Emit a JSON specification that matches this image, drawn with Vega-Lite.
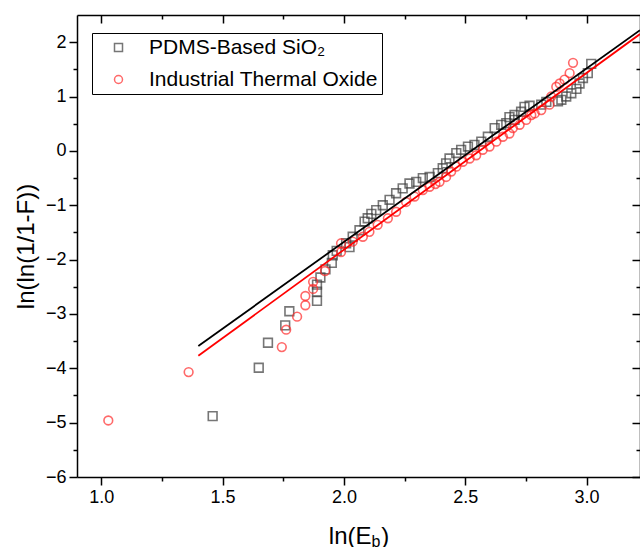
{
  "$schema": "https://vega.github.io/schema/vega-lite/v6.json",
  "autosize": {"type": "none"},
  "width": 563,
  "height": 462,
  "padding": {"left": 77, "top": 15, "right": 0, "bottom": 70},
  "background": "white",
  "config": {
    "view": {"stroke": null},
    "font": "Liberation Sans",
    "axis": {
      "grid": false,
      "domainColor": "black",
      "domainWidth": 1.5,
      "tickColor": "black",
      "tickWidth": 1.5,
      "labelColor": "black",
      "titleColor": "black",
      "labelFont": "Liberation Sans",
      "titleFont": "Liberation Sans",
      "labelFontSize": 18,
      "titleFontSize": 24,
      "titleFontWeight": "normal",
      "labelFlush": false,
      "labelOverlap": false
    },
    "legend": {"labelFont": "Liberation Sans"}
  },
  "datasets": {
    "pts": [
      {"series": "PDMS-Based SiO₂", "x": 1.459, "y": -4.88},
      {"series": "PDMS-Based SiO₂", "x": 1.649, "y": -3.99},
      {"series": "PDMS-Based SiO₂", "x": 1.687, "y": -3.53},
      {"series": "PDMS-Based SiO₂", "x": 1.758, "y": -3.21},
      {"series": "PDMS-Based SiO₂", "x": 1.775, "y": -2.95},
      {"series": "PDMS-Based SiO₂", "x": 1.889, "y": -2.76},
      {"series": "PDMS-Based SiO₂", "x": 1.889, "y": -2.59},
      {"series": "PDMS-Based SiO₂", "x": 1.889, "y": -2.46},
      {"series": "PDMS-Based SiO₂", "x": 1.903, "y": -2.33},
      {"series": "PDMS-Based SiO₂", "x": 1.924, "y": -2.18},
      {"series": "PDMS-Based SiO₂", "x": 1.950, "y": -2.06},
      {"series": "PDMS-Based SiO₂", "x": 1.954, "y": -1.92},
      {"series": "PDMS-Based SiO₂", "x": 1.970, "y": -1.84},
      {"series": "PDMS-Based SiO₂", "x": 2.009, "y": -1.70},
      {"series": "PDMS-Based SiO₂", "x": 2.023, "y": -1.77},
      {"series": "PDMS-Based SiO₂", "x": 2.036, "y": -1.58},
      {"series": "PDMS-Based SiO₂", "x": 2.064, "y": -1.46},
      {"series": "PDMS-Based SiO₂", "x": 2.085, "y": -1.30},
      {"series": "PDMS-Based SiO₂", "x": 2.098, "y": -1.24},
      {"series": "PDMS-Based SiO₂", "x": 2.113, "y": -1.16},
      {"series": "PDMS-Based SiO₂", "x": 2.133, "y": -1.09},
      {"series": "PDMS-Based SiO₂", "x": 2.160, "y": -1.00},
      {"series": "PDMS-Based SiO₂", "x": 2.188, "y": -0.90},
      {"series": "PDMS-Based SiO₂", "x": 2.215, "y": -0.78},
      {"series": "PDMS-Based SiO₂", "x": 2.242, "y": -0.69},
      {"series": "PDMS-Based SiO₂", "x": 2.270, "y": -0.60},
      {"series": "PDMS-Based SiO₂", "x": 2.298, "y": -0.57},
      {"series": "PDMS-Based SiO₂", "x": 2.325, "y": -0.50},
      {"series": "PDMS-Based SiO₂", "x": 2.353, "y": -0.48},
      {"series": "PDMS-Based SiO₂", "x": 2.387, "y": -0.41},
      {"series": "PDMS-Based SiO₂", "x": 2.407, "y": -0.32},
      {"series": "PDMS-Based SiO₂", "x": 2.421, "y": -0.23},
      {"series": "PDMS-Based SiO₂", "x": 2.435, "y": -0.14},
      {"series": "PDMS-Based SiO₂", "x": 2.463, "y": -0.04},
      {"series": "PDMS-Based SiO₂", "x": 2.483, "y": 0.02},
      {"series": "PDMS-Based SiO₂", "x": 2.511, "y": 0.08},
      {"series": "PDMS-Based SiO₂", "x": 2.538, "y": 0.11},
      {"series": "PDMS-Based SiO₂", "x": 2.566, "y": 0.17},
      {"series": "PDMS-Based SiO₂", "x": 2.593, "y": 0.26},
      {"series": "PDMS-Based SiO₂", "x": 2.621, "y": 0.42},
      {"series": "PDMS-Based SiO₂", "x": 2.648, "y": 0.48},
      {"series": "PDMS-Based SiO₂", "x": 2.669, "y": 0.51},
      {"series": "PDMS-Based SiO₂", "x": 2.682, "y": 0.62},
      {"series": "PDMS-Based SiO₂", "x": 2.703, "y": 0.66},
      {"series": "PDMS-Based SiO₂", "x": 2.703, "y": 0.57},
      {"series": "PDMS-Based SiO₂", "x": 2.730, "y": 0.72},
      {"series": "PDMS-Based SiO₂", "x": 2.744, "y": 0.81},
      {"series": "PDMS-Based SiO₂", "x": 2.765, "y": 0.83},
      {"series": "PDMS-Based SiO₂", "x": 2.813, "y": 0.85},
      {"series": "PDMS-Based SiO₂", "x": 2.834, "y": 0.90},
      {"series": "PDMS-Based SiO₂", "x": 2.882, "y": 0.91},
      {"series": "PDMS-Based SiO₂", "x": 2.896, "y": 0.94},
      {"series": "PDMS-Based SiO₂", "x": 2.916, "y": 1.00},
      {"series": "PDMS-Based SiO₂", "x": 2.937, "y": 1.06},
      {"series": "PDMS-Based SiO₂", "x": 2.958, "y": 1.14},
      {"series": "PDMS-Based SiO₂", "x": 2.971, "y": 1.24},
      {"series": "PDMS-Based SiO₂", "x": 2.985, "y": 1.34},
      {"series": "PDMS-Based SiO₂", "x": 3.005, "y": 1.43},
      {"series": "PDMS-Based SiO₂", "x": 3.019, "y": 1.60},
      {"series": "Industrial Thermal Oxide", "x": 1.029, "y": -4.96},
      {"series": "Industrial Thermal Oxide", "x": 1.360, "y": -4.07},
      {"series": "Industrial Thermal Oxide", "x": 1.744, "y": -3.61},
      {"series": "Industrial Thermal Oxide", "x": 1.762, "y": -3.29},
      {"series": "Industrial Thermal Oxide", "x": 1.807, "y": -3.05},
      {"series": "Industrial Thermal Oxide", "x": 1.841, "y": -2.84},
      {"series": "Industrial Thermal Oxide", "x": 1.841, "y": -2.67},
      {"series": "Industrial Thermal Oxide", "x": 1.873, "y": -2.54},
      {"series": "Industrial Thermal Oxide", "x": 1.873, "y": -2.41},
      {"series": "Industrial Thermal Oxide", "x": 1.922, "y": -2.21},
      {"series": "Industrial Thermal Oxide", "x": 1.988, "y": -1.86},
      {"series": "Industrial Thermal Oxide", "x": 1.988, "y": -1.70},
      {"series": "Industrial Thermal Oxide", "x": 2.036, "y": -1.67},
      {"series": "Industrial Thermal Oxide", "x": 2.078, "y": -1.58},
      {"series": "Industrial Thermal Oxide", "x": 2.105, "y": -1.49},
      {"series": "Industrial Thermal Oxide", "x": 2.139, "y": -1.36},
      {"series": "Industrial Thermal Oxide", "x": 2.181, "y": -1.24},
      {"series": "Industrial Thermal Oxide", "x": 2.215, "y": -1.12},
      {"series": "Industrial Thermal Oxide", "x": 2.256, "y": -0.94},
      {"series": "Industrial Thermal Oxide", "x": 2.291, "y": -0.84},
      {"series": "Industrial Thermal Oxide", "x": 2.325, "y": -0.72},
      {"series": "Industrial Thermal Oxide", "x": 2.353, "y": -0.66},
      {"series": "Industrial Thermal Oxide", "x": 2.377, "y": -0.61},
      {"series": "Industrial Thermal Oxide", "x": 2.394, "y": -0.57},
      {"series": "Industrial Thermal Oxide", "x": 2.421, "y": -0.48},
      {"series": "Industrial Thermal Oxide", "x": 2.442, "y": -0.38},
      {"series": "Industrial Thermal Oxide", "x": 2.463, "y": -0.29},
      {"series": "Industrial Thermal Oxide", "x": 2.490, "y": -0.20},
      {"series": "Industrial Thermal Oxide", "x": 2.518, "y": -0.14},
      {"series": "Industrial Thermal Oxide", "x": 2.545, "y": -0.08},
      {"series": "Industrial Thermal Oxide", "x": 2.572, "y": 0.02},
      {"series": "Industrial Thermal Oxide", "x": 2.600, "y": 0.08},
      {"series": "Industrial Thermal Oxide", "x": 2.628, "y": 0.17},
      {"series": "Industrial Thermal Oxide", "x": 2.655, "y": 0.26},
      {"series": "Industrial Thermal Oxide", "x": 2.682, "y": 0.32},
      {"series": "Industrial Thermal Oxide", "x": 2.696, "y": 0.42},
      {"series": "Industrial Thermal Oxide", "x": 2.724, "y": 0.48},
      {"series": "Industrial Thermal Oxide", "x": 2.751, "y": 0.57},
      {"series": "Industrial Thermal Oxide", "x": 2.772, "y": 0.66},
      {"series": "Industrial Thermal Oxide", "x": 2.786, "y": 0.69},
      {"series": "Industrial Thermal Oxide", "x": 2.813, "y": 0.75},
      {"series": "Industrial Thermal Oxide", "x": 2.847, "y": 0.85},
      {"series": "Industrial Thermal Oxide", "x": 2.854, "y": 1.00},
      {"series": "Industrial Thermal Oxide", "x": 2.875, "y": 1.18},
      {"series": "Industrial Thermal Oxide", "x": 2.889, "y": 1.24},
      {"series": "Industrial Thermal Oxide", "x": 2.909, "y": 1.31},
      {"series": "Industrial Thermal Oxide", "x": 2.930, "y": 1.43},
      {"series": "Industrial Thermal Oxide", "x": 2.944, "y": 1.62}
    ],
    "fit": [
      {"series": "PDMS-Based SiO₂", "x": 1.4, "y": -3.59},
      {"series": "PDMS-Based SiO₂", "x": 3.22, "y": 2.22},
      {"series": "Industrial Thermal Oxide", "x": 1.4, "y": -3.77},
      {"series": "Industrial Thermal Oxide", "x": 3.22, "y": 2.15}
    ]
  },
  "layer": [
    {
      "data": {"name": "pts"},
      "mark": {"type": "point", "filled": false, "strokeWidth": 1.6, "size": 76, "clip": true},
      "encoding": {
        "x": {
          "field": "x", "type": "quantitative",
          "scale": {"domain": [0.9, 3.22], "nice": false, "zero": false},
          "axis": {
            "orient": "bottom",
            "values": [1, 1.25, 1.5, 1.75, 2, 2.25, 2.5, 2.75, 3],
            "labelExpr": "(datum.value*2)%1==0 ? format(datum.value,'.1f') : ''",
            "tickSize": {"condition": {"test": "(datum.value*2)%1!=0", "value": 4}, "value": 8},
            "labelPadding": 3,
            "title": "ln(E\u2009\u2009)",
            "titlePadding": 18
          }
        },
        "y": {
          "field": "y", "type": "quantitative",
          "scale": {"domain": [-6, 2.5], "nice": false, "zero": false},
          "axis": {
            "orient": "left",
            "values": [-6, -5.5, -5, -4.5, -4, -3.5, -3, -2.5, -2, -1.5, -1, -0.5, 0, 0.5, 1, 1.5, 2],
            "labelExpr": "datum.value%1!=0 ? '' : (datum.value<0 ? '−'+abs(datum.value) : ''+datum.value)",
            "tickSize": {"condition": {"test": "datum.value%1!=0", "value": 4}, "value": 8},
            "labelPadding": 3,
            "title": "ln(ln(1/1-F))",
            "titlePadding": 7
          }
        },
        "shape": {
          "field": "series", "type": "nominal",
          "scale": {"domain": ["PDMS-Based SiO₂", "Industrial Thermal Oxide"], "range": ["square", "circle"]},
          "legend": {
            "title": null, "orient": "none", "legendX": 15, "legendY": 18,
            "strokeColor": "black", "padding": 4, "labelFontSize": 21, "labelLimit": 500,
            "symbolSize": 64, "symbolStrokeWidth": 1.5, "rowPadding": 10,
            "labelOffset": 20, "symbolOffset": 12, "labelColor": "black"
          }
        },
        "stroke": {
          "field": "series", "type": "nominal",
          "scale": {"domain": ["PDMS-Based SiO₂", "Industrial Thermal Oxide"], "range": ["#3d3d3d", "#ff2a2a"]},
          "legend": {
            "title": null, "orient": "none", "legendX": 15, "legendY": 18,
            "strokeColor": "black", "padding": 4, "labelFontSize": 21, "labelLimit": 500,
            "symbolSize": 64, "symbolStrokeWidth": 1.5, "rowPadding": 10,
            "labelOffset": 20, "symbolOffset": 12, "labelColor": "black"
          }
        }
      }
    },
    {
      "data": {"name": "fit"},
      "mark": {"type": "line", "strokeWidth": 1.8, "clip": true},
      "encoding": {
        "x": {
          "field": "x", "type": "quantitative",
          "axis": {
            "orient": "top",
            "values": [1, 1.25, 1.5, 1.75, 2, 2.25, 2.5, 2.75, 3],
            "labels": false,
            "tickSize": {"condition": {"test": "(datum.value*2)%1!=0", "value": -4}, "value": -8},
            "title": "b",
            "titleFontSize": 16,
            "titleX": 298.5,
            "titleY": 531,
            "titleAlign": "center",
            "titleBaseline": "alphabetic",
            "titleAngle": 0
          }
        },
        "y": {
          "field": "y", "type": "quantitative",
          "axis": {
            "orient": "right",
            "values": [-6, -5.5, -5, -4.5, -4, -3.5, -3, -2.5, -2, -1.5, -1, -0.5, 0, 0.5, 1, 1.5, 2],
            "labels": false,
            "tickSize": {"condition": {"test": "datum.value%1!=0", "value": -4}, "value": -8},
            "title": null
          }
        },
        "detail": {"field": "series", "type": "nominal"},
        "color": {
          "field": "series", "type": "nominal",
          "scale": {"domain": ["PDMS-Based SiO₂", "Industrial Thermal Oxide"], "range": ["#000000", "#ff0000"]},
          "legend": null
        }
      }
    }
  ],
  "resolve": {"axis": {"x": "independent", "y": "independent"}}
}
